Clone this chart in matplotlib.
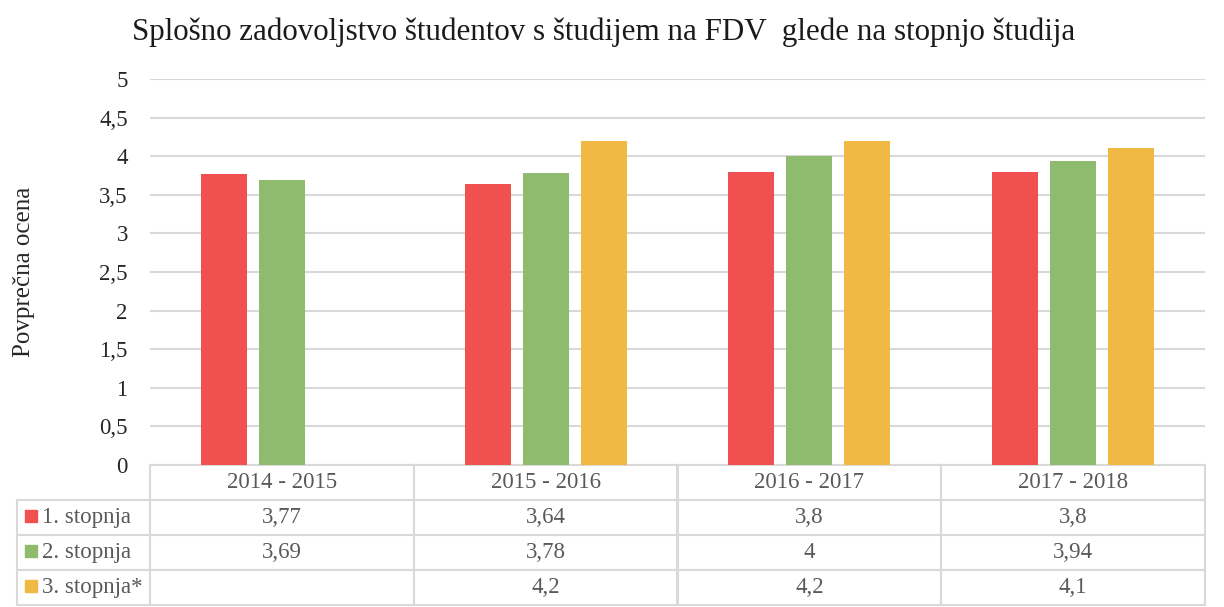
import numpy as np
import matplotlib.pyplot as plt
from matplotlib.patches import Rectangle

# data
years = ['2014 - 2015', '2015 - 2016', '2016 - 2017', '2017 - 2018']
series = ['1. stopnja', '2. stopnja', '3. stopnja*']
stopnja1 = [3.77, 3.64, 3.8, 3.8]
stopnja2 = [3.69, 3.78, 4.0, 3.94]
stopnja3 = [np.nan, 4.2, 4.2, 4.1]
colors = ['#F0504F', '#8EBB6E', '#EFB943']

plt.rcParams['font.family'] = ['Liberation Serif', 'DejaVu Serif']

fig = plt.figure(figsize=(12.24, 6.07), dpi=100)
ax = fig.add_axes([150/1224, 1 - 465/607, 1055/1224, 386/607])

x = np.arange(len(years))
offset = 58/264
width = 46/264
for k, vals in enumerate([stopnja1, stopnja2, stopnja3]):
    ax.bar(x + (k - 1)*offset, vals, width, color=colors[k], zorder=3)

ax.set_xlim(-0.5, len(years) - 0.5)
ax.set_ylim(0, 5)
yt = np.arange(0, 5.01, 0.5)
ax.set_yticks(yt)
ax.set_yticklabels([('%g' % v).replace('.', ',') for v in yt], fontsize=16.5, color='#262626')
ax.set_xticks([])
ax.tick_params(axis='y', length=0, pad=16)
ax.grid(axis='y', color='#D9D9D9', linewidth=1.5, zorder=0)
for s in ax.spines.values():
    s.set_visible(False)

ax.set_ylabel('Povprečna ocena', fontsize=18, color='#262626', labelpad=46)

# data table under the plot
def fmt(v):
    if np.isnan(v):
        return ''
    return ('%g' % v).replace('.', ',')

cells = [[''] + years]
for name, vals in zip(series, [stopnja1, stopnja2, stopnja3]):
    cells.append([name] + [fmt(v) for v in vals])

first = 133/1188
tab = ax.table(cellText=cells, colWidths=[first] + [(1 - first)/4]*4,
               bbox=[-133/1055, -140/386, 1188/1055, 140/386], cellLoc='center')
tab.auto_set_font_size(False)
for (r, c), cell in tab.get_celld().items():
    cell.set_edgecolor('#D9D9D9')
    cell.set_linewidth(1.5)
    cell.get_text().set_fontsize(16.5)
    cell.get_text().set_color('#595959')
    if c == 0:
        cell.get_text().set_ha('left')
        cell._loc = 'left'
        cell.PAD = 25/133
    if r == 0 and c == 0:
        cell.visible_edges = ''

# legend keys in row label cells
rowh = 35/386
for k in range(3):
    y0 = -33/386 - (k + 1)*rowh + rowh/2 - 6/386
    ax.add_patch(Rectangle((-125/1055, y0), 12/1055, 12/386, transform=ax.transAxes,
                           color=colors[k], clip_on=False))

fig.text(604/1224, 1 - 32/607, 'Splošno zadovoljstvo študentov s študijem na FDV  glede na stopnjo študija',
         ha='center', va='center', fontsize=22.3, color='#1a1a1a')

fig.savefig('out.png', dpi=100)
